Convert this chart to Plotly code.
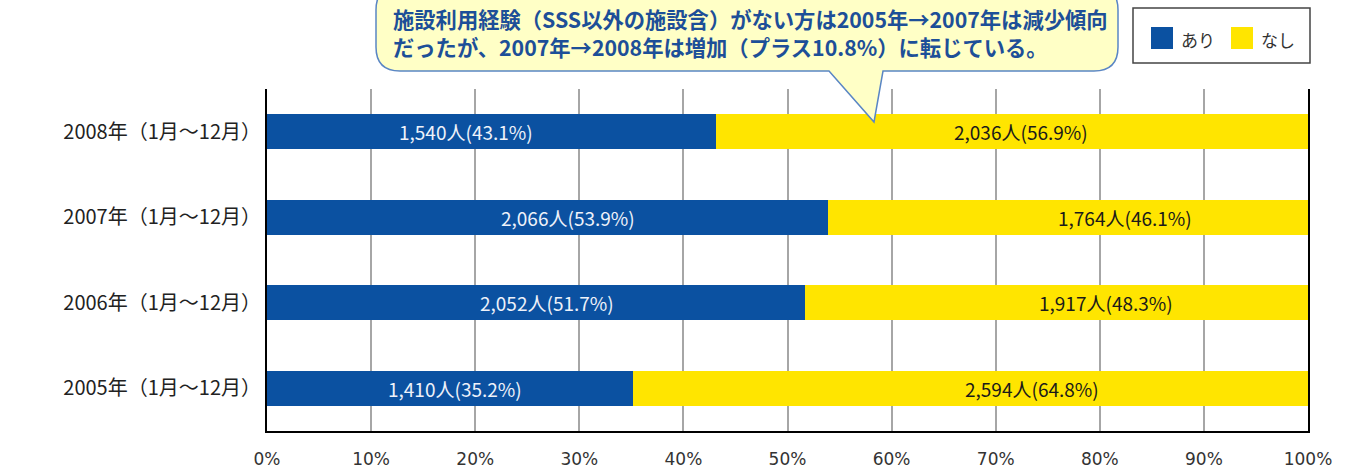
import plotly.graph_objects as go

# ---- data ----
categories = ["2008年（1月～12月）", "2007年（1月～12月）", "2006年（1月～12月）", "2005年（1月～12月）"]
series_names = ["あり", "なし"]
ari_count = [1540, 2066, 2052, 1410]
ari_pct = [43.1, 53.9, 51.7, 35.2]
nashi_count = [2036, 1764, 1917, 2594]
nashi_pct = [56.9, 46.1, 48.3, 64.8]
tick_vals = [0, 10, 20, 30, 40, 50, 60, 70, 80, 90, 100]
tick_text = [f"{v}%" for v in tick_vals]
callout_lines = [
    "施設利用経験（SSS以外の施設含）がない方は2005年→2007年は減少傾向",
    "だったが、2007年→2008年は増加（プラス10.8%）に転じている。",
]

# label placement (layout, in axis % units, as placed in the original)
ari_label_x = [19.1, 28.9, 26.9, 18.1]
nashi_label_x = [72.4, 82.4, 80.6, 73.5]

colors = ["#0B51A1", "#FFE500"]
label_colors = ["#EEF2FA", "#1A1A1A"]
FONT = "Noto Sans CJK JP"

W, H = 1371, 468
ML, MR, MT, MB = 267, 63, 89, 37
PW, PH = W - ML - MR, H - MT - MB


def px(x):
    return (x - ML) / PW


def py(y):
    return (H - MB - y) / PH


def lbl(c, p):
    return f"{c:,}人({p}%)"


fig = go.Figure()
for name, col, vals in zip(series_names, colors, [ari_pct, nashi_pct]):
    fig.add_trace(go.Bar(
        y=categories, x=vals, orientation="h", name=name,
        marker=dict(color=col, line=dict(width=0)),
        hoverinfo="skip",
    ))

for counts, pcts, xs, lc in [(ari_count, ari_pct, ari_label_x, label_colors[0]),
                             (nashi_count, nashi_pct, nashi_label_x, label_colors[1])]:
    for cat, c, p, x in zip(categories, counts, pcts, xs):
        fig.add_annotation(text=lbl(c, p), x=x, y=cat, xref="x", yref="y",
                           showarrow=False, xanchor="center", yanchor="middle",
                           font=dict(family=FONT, size=19, color=lc))

fig.update_layout(
    width=W, height=H,
    margin=dict(l=ML, r=MR, t=MT, b=MB),
    barmode="stack", bargap=0.59,
    plot_bgcolor="white", paper_bgcolor="white",
    showlegend=False,
    font=dict(family=FONT, color="#222"),
)
fig.update_xaxes(
    range=[0, 100], tickvals=tick_vals, ticktext=tick_text,
    showgrid=True, gridcolor="#A6A6A6", gridwidth=1.5,
    showline=True, linecolor="black", linewidth=2, mirror=False,
    zeroline=False, ticks="", ticklabelstandoff=12, automargin=False,
    tickfont=dict(family="DejaVu Sans", size=17, color="#333"),
)
fig.update_yaxes(
    categoryorder="array", categoryarray=categories, autorange="reversed",
    showline=True, linecolor="black", linewidth=2, mirror=True,
    showgrid=False, ticks="", ticklabelstandoff=0, automargin=False,
    tickfont=dict(family=FONT, size=20, color="#222"),
)

# ---- callout bubble ----
L, R, T, B, r = 376, 1118, -14, 71, 24
bx0, bx1, tipx, tipy = 829, 883, 874, 122
pts = (
    f"M {px(L + r)},{py(T)} L {px(R - r)},{py(T)} "
    f"Q {px(R)},{py(T)} {px(R)},{py(T + r)} "
    f"L {px(R)},{py(B - r)} Q {px(R)},{py(B)} {px(R - r)},{py(B)} "
    f"L {px(bx1)},{py(B)} L {px(tipx)},{py(tipy)} L {px(bx0)},{py(B)} "
    f"L {px(L + r)},{py(B)} Q {px(L)},{py(B)} {px(L)},{py(B - r)} "
    f"L {px(L)},{py(T + r)} Q {px(L)},{py(T)} {px(L + r)},{py(T)} Z"
)
fig.add_shape(type="path", path=pts, xref="paper", yref="paper",
              fillcolor="#FFFFC6", line=dict(color="#5A86C4", width=1.5), layer="above")
fig.add_annotation(
    text="<br>".join(f"<b>{ln}</b>" for ln in callout_lines),
    xref="paper", yref="paper", align="left",
    x=px(391), y=py(32.5), xanchor="left", yanchor="middle",
    showarrow=False, font=dict(family=FONT, size=21.3, color="#1D4F98"),
)

# ---- legend (drawn) ----
fig.add_shape(type="rect", xref="paper", yref="paper",
              x0=px(1133), x1=px(1310), y0=py(63), y1=py(8),
              line=dict(color="#444", width=1.5), fillcolor="white")
for i, (name, col) in enumerate(zip(series_names, colors)):
    sx = 1151 + 80 * i
    fig.add_shape(type="rect", xref="paper", yref="paper",
                  x0=px(sx), x1=px(sx + 22), y0=py(49), y1=py(27),
                  line=dict(width=0), fillcolor=col)
    fig.add_annotation(text=name, xref="paper", yref="paper",
                       x=px(sx + 28), y=py(39), xanchor="left", yanchor="middle",
                       showarrow=False, font=dict(family=FONT, size=17, color="#333"))

fig.write_html("out.html", config={"displayModeBar": False},
               post_script="document.body.style.margin='0';")
